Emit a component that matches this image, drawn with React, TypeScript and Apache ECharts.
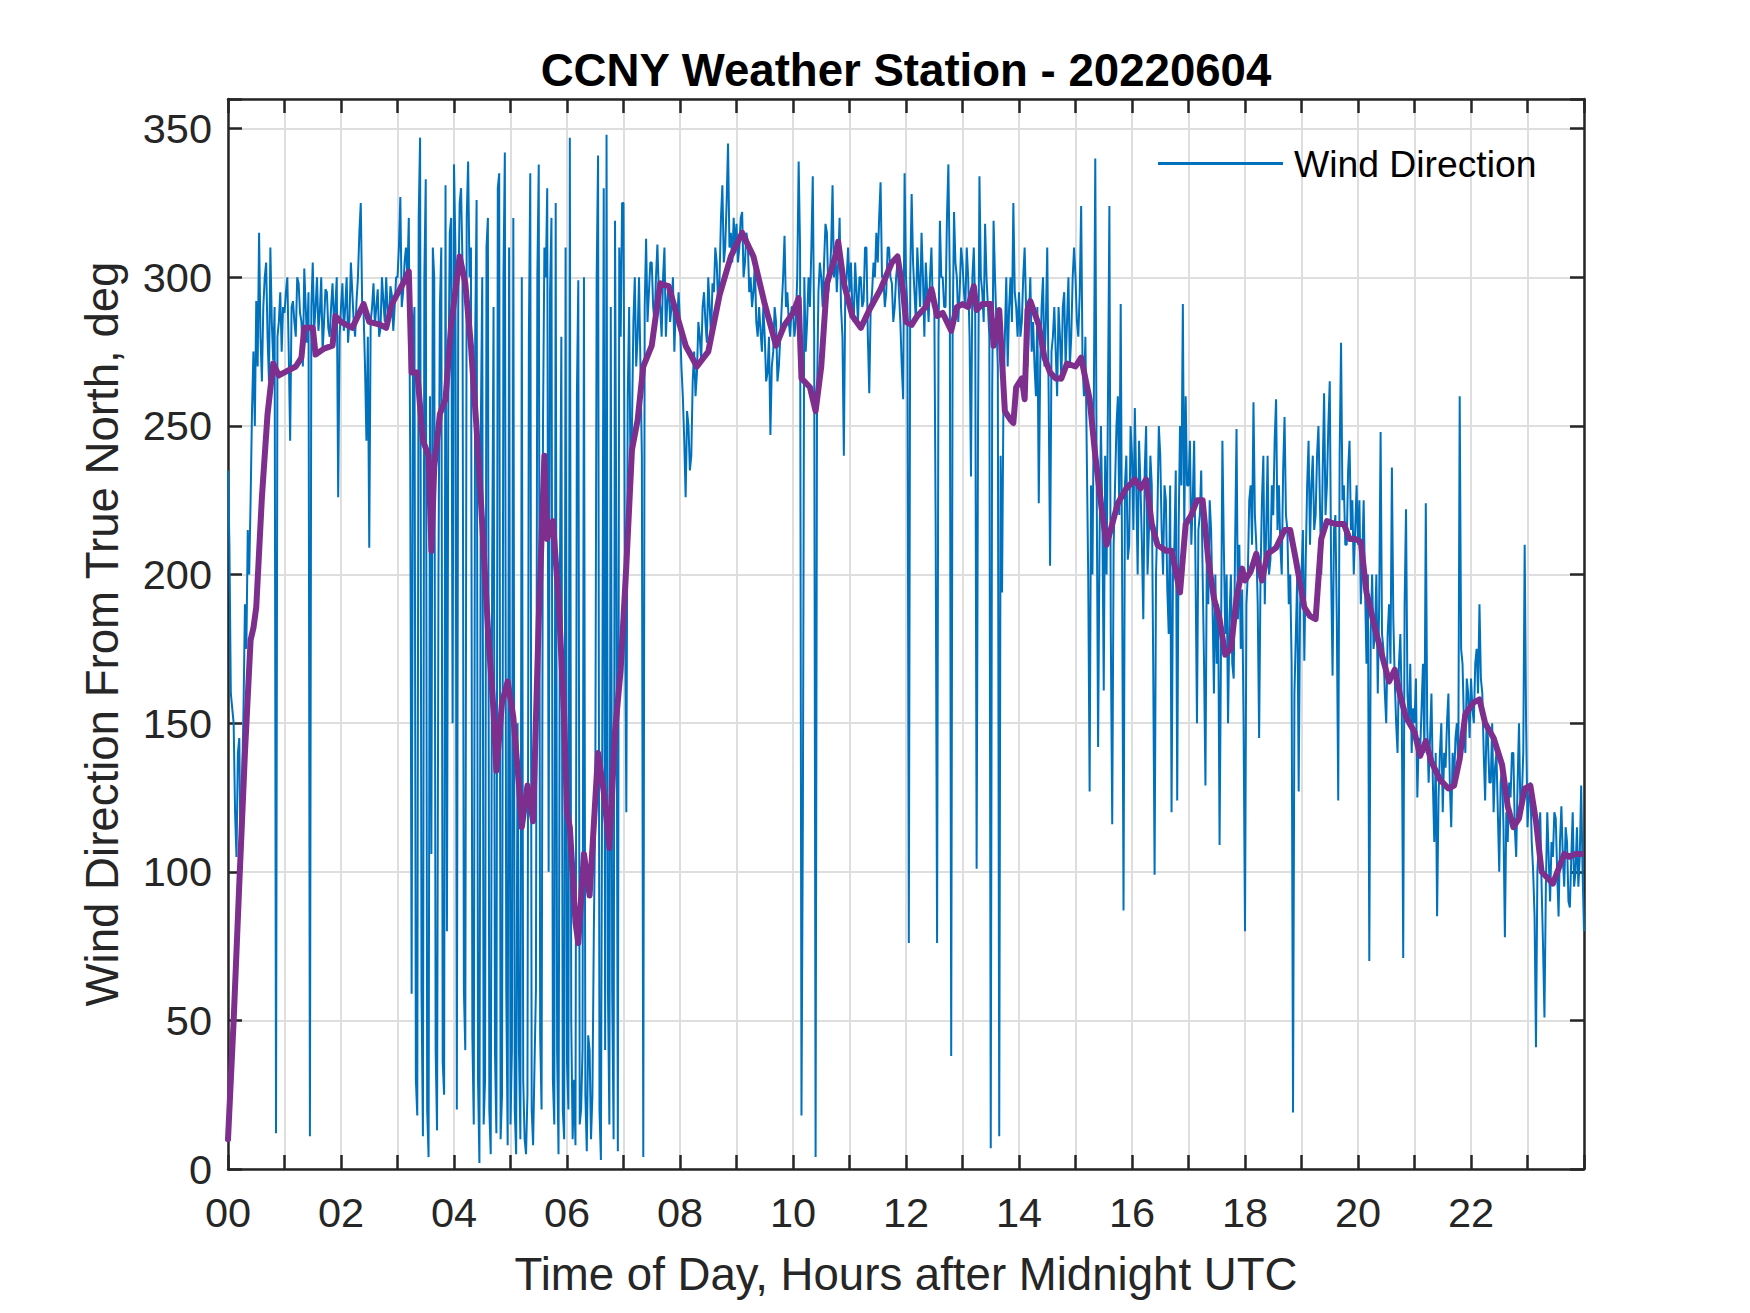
import React, { useEffect, useRef } from 'react';
import * as echarts from 'echarts';

// raw wind direction, one row per hour (samples spread evenly across the hour)
const windByHour: number[][] = [
  /* 00 */ [235, 210, 160, 155, 150, 120, 105, 140, 145, 100, 130, 155, 190, 175, 215, 200, 225, 255, 275, 250, 292, 270, 315, 280, 265, 290, 300, 305, 280, 265, 310, 285, 272, 290, 12, 280, 285, 295, 275, 290],
  /* 01 */ [288, 295, 300, 275, 245, 290, 292, 285, 280, 300, 298, 288, 285, 270, 303, 290, 278, 295, 11, 290, 305, 282, 290, 300, 282, 288, 300, 275, 285, 296, 295, 283, 280, 290, 298, 285, 290, 300, 226, 280],
  /* 02 */ [290, 298, 282, 290, 300, 278, 286, 305, 295, 285, 280, 292, 300, 315, 325, 290, 288, 270, 245, 280, 209, 285, 290, 298, 284, 290, 296, 280, 283, 300, 292, 285, 300, 288, 286, 297, 294, 282, 290, 300],
  /* 03 */ [300, 310, 327, 290, 295, 305, 310, 300, 320, 240, 59, 280, 290, 30, 18, 320, 347, 60, 11, 300, 333, 20, 4, 260, 106, 310, 300, 40, 13, 200, 290, 310, 36, 25, 331, 80, 260, 315, 320, 150],
  /* 04 */ [338, 310, 20, 290, 325, 330, 305, 60, 40, 320, 339, 300, 310, 45, 15, 280, 326, 30, 2, 250, 300, 15, 30, 310, 320, 20, 5, 200, 290, 40, 12, 330, 335, 10, 25, 300, 342, 60, 8, 310],
  /* 05 */ [15, 40, 320, 20, 5, 150, 40, 10, 300, 30, 10, 5, 25, 280, 335, 20, 8, 35, 60, 300, 338, 45, 20, 250, 310, 300, 330, 100, 295, 320, 30, 15, 325, 40, 5, 200, 280, 20, 10, 310],
  /* 06 */ [36, 20, 347, 50, 10, 30, 8, 260, 299, 15, 20, 40, 300, 25, 6, 45, 40, 10, 25, 80, 120, 300, 341, 20, 3, 150, 330, 40, 348, 60, 15, 290, 60, 10, 319, 200, 6, 310, 280, 325],
  /* 07 */ [325, 200, 120, 260, 290, 230, 250, 285, 300, 270, 280, 300, 270, 240, 4, 290, 313, 285, 295, 305, 305, 290, 285, 300, 311, 295, 290, 280, 300, 310, 280, 292, 298, 285, 290, 300, 275, 290, 285, 295],
  /* 08 */ [285, 270, 260, 245, 226, 255, 250, 235, 240, 265, 275, 260, 268, 285, 280, 272, 290, 295, 285, 278, 300, 290, 280, 298, 295, 310, 305, 290, 300, 320, 331, 305, 310, 325, 345, 310, 315, 305, 320, 310],
  /* 09 */ [318, 305, 310, 320, 322, 300, 305, 315, 312, 295, 300, 290, 295, 305, 285, 280, 290, 282, 275, 290, 280, 265, 268, 280, 247, 270, 275, 290, 285, 265, 270, 280, 290, 300, 314, 290, 295, 285, 280, 290],
  /* 10 */ [290, 280, 285, 300, 339, 310, 18, 120, 300, 275, 285, 300, 290, 310, 334, 280, 4, 260, 295, 305, 300, 290, 305, 318, 315, 295, 300, 310, 331, 300, 310, 295, 305, 320, 290, 280, 240, 295, 300, 310],
  /* 11 */ [295, 305, 290, 285, 305, 295, 285, 300, 300, 290, 292, 310, 310, 280, 261, 290, 295, 305, 300, 315, 305, 320, 332, 300, 300, 290, 295, 310, 310, 300, 298, 285, 290, 300, 305, 295, 285, 270, 259, 335],
  /* 12 */ [300, 290, 76, 300, 328, 305, 295, 285, 310, 300, 290, 315, 300, 280, 305, 295, 285, 300, 310, 290, 295, 217, 76, 280, 319, 300, 300, 290, 290, 320, 338, 300, 38, 280, 322, 305, 300, 285, 295, 310],
  /* 13 */ [305, 295, 290, 310, 300, 280, 233, 300, 310, 290, 101, 250, 334, 300, 295, 285, 318, 300, 290, 280, 7, 260, 319, 300, 285, 270, 11, 240, 194, 260, 280, 300, 270, 290, 300, 285, 325, 295, 290, 280],
  /* 14 */ [295, 280, 285, 300, 310, 290, 270, 285, 300, 275, 285, 270, 260, 290, 224, 270, 290, 300, 270, 285, 310, 260, 203, 275, 280, 290, 275, 260, 290, 280, 265, 290, 295, 270, 285, 300, 270, 280, 300, 310],
  /* 15 */ [300, 285, 280, 295, 324, 270, 260, 280, 240, 200, 127, 230, 200, 260, 340, 230, 142, 210, 250, 220, 161, 240, 200, 260, 324, 180, 116, 210, 230, 250, 260, 220, 291, 200, 87, 230, 240, 205, 210, 250],
  /* 16 */ [240, 215, 256, 230, 200, 245, 230, 210, 185, 235, 250, 200, 215, 240, 230, 170, 99, 200, 220, 250, 240, 215, 200, 230, 225, 195, 180, 230, 120, 200, 210, 235, 124, 215, 250, 230, 291, 215, 260, 230],
  /* 17 */ [230, 245, 210, 225, 245, 200, 150, 215, 220, 235, 200, 170, 129, 210, 190, 225, 215, 190, 160, 200, 170, 190, 109, 175, 245, 210, 180, 200, 150, 185, 200, 170, 165, 210, 249, 185, 210, 175, 195, 150],
  /* 18 */ [80, 190, 200, 225, 230, 210, 258, 220, 210, 190, 145, 200, 225, 240, 190, 215, 240, 200, 205, 230, 220, 245, 259, 215, 230, 210, 200, 235, 253, 220, 215, 190, 200, 170, 19, 160, 180, 200, 127, 190],
  /* 19 */ [200, 215, 171, 205, 230, 245, 210, 230, 240, 215, 220, 240, 250, 225, 200, 235, 261, 220, 230, 250, 265, 200, 166, 215, 220, 185, 124, 240, 278, 225, 230, 210, 210, 235, 245, 215, 225, 200, 215, 230],
  /* 20 */ [210, 225, 190, 205, 225, 195, 170, 200, 70, 180, 200, 175, 180, 200, 160, 190, 248, 180, 175, 160, 150, 180, 190, 170, 236, 185, 165, 150, 140, 170, 180, 155, 71, 190, 222, 160, 150, 170, 140, 155],
  /* 21 */ [150, 165, 125, 145, 140, 155, 170, 140, 224, 150, 130, 145, 160, 130, 110, 140, 85, 125, 140, 150, 120, 140, 135, 150, 160, 130, 115, 140, 130, 145, 150, 135, 260, 175, 170, 150, 140, 165, 160, 145],
  /* 22 */ [165, 155, 150, 170, 175, 160, 190, 165, 160, 140, 124, 150, 145, 130, 130, 150, 120, 135, 140, 120, 100, 130, 135, 115, 78, 120, 110, 130, 125, 140, 140, 115, 105, 130, 150, 120, 125, 140, 210, 150],
  /* 23 */ [115, 125, 130, 110, 100, 85, 41, 100, 110, 120, 95, 75, 51, 95, 120, 105, 90, 110, 105, 120, 118, 100, 85, 110, 122, 105, 95, 115, 110, 90, 88, 105, 120, 95, 100, 115, 95, 105, 129, 100],
];
const windAtMidnight = 80; // last sample, 24:00

// running mean (purple), read at its turning points
const avgHours: number[] = [
  0, 0.1, 0.2, 0.3, 0.4, 0.45, 0.5, 0.6, 0.7, 0.8, 0.9, 1.0, 1.2, 1.3, 1.35, 1.5, 1.55, 1.7, 1.85, 1.9,
  2.0, 2.2, 2.4, 2.5, 2.7, 2.8, 2.9, 3.1, 3.2, 3.25, 3.35, 3.45, 3.55, 3.6, 3.65, 3.75, 3.85, 3.95,
  4.1, 4.2, 4.3, 4.4, 4.5, 4.6, 4.7, 4.75, 4.85, 4.95, 5.05, 5.15, 5.2, 5.3, 5.4, 5.5, 5.6, 5.65, 5.75,
  5.85, 5.95, 6.0, 6.05, 6.15, 6.2, 6.3, 6.4, 6.55, 6.65, 6.75, 6.85, 6.95, 7.05, 7.15, 7.25, 7.35,
  7.5, 7.65, 7.8, 7.95, 8.1, 8.3, 8.5, 8.7, 8.9, 9.1, 9.3, 9.5, 9.7, 9.85, 10.0, 10.1, 10.15, 10.3,
  10.4, 10.5, 10.6, 10.75, 10.8, 10.9, 11.05, 11.2, 11.35, 11.55, 11.75, 11.85, 11.95, 12.0, 12.1,
  12.2, 12.35, 12.45, 12.55, 12.65, 12.8, 12.9, 13.0, 13.1, 13.2, 13.25, 13.35, 13.5, 13.55, 13.65,
  13.75, 13.85, 13.9, 13.95, 14.05, 14.1, 14.15, 14.2, 14.35, 14.45, 14.55, 14.65, 14.75, 14.85, 15.0,
  15.1, 15.25, 15.35, 15.45, 15.55, 15.65, 15.75, 15.9, 16.05, 16.15, 16.25, 16.35, 16.45, 16.6, 16.7,
  16.85, 16.95, 17.05, 17.15, 17.25, 17.35, 17.45, 17.55, 17.65, 17.75, 17.85, 17.95, 18.0, 18.1,
  18.2, 18.3, 18.4, 18.55, 18.7, 18.8, 18.9, 19.05, 19.15, 19.25, 19.35, 19.45, 19.6, 19.75, 19.85,
  19.95, 20.05, 20.15, 20.3, 20.45, 20.55, 20.65, 20.75, 20.85, 21.0, 21.1, 21.2, 21.3, 21.45, 21.6,
  21.7, 21.8, 21.9, 22.05, 22.15, 22.25, 22.4, 22.55, 22.65, 22.75, 22.85, 22.95, 23.05, 23.15, 23.25,
  23.35, 23.45, 23.55, 23.65, 23.75, 23.85, 23.95,
];
const avgDeg: number[] = [
  10, 50, 96, 140, 178, 182, 189, 226, 254, 271, 267, 268, 270, 273, 283, 283, 274, 276, 277, 287,
  285, 283, 291, 285, 284, 283, 291, 298, 302, 268, 268, 245, 240, 208, 236, 254, 259, 284,
  307, 298, 277, 249, 217, 182, 154, 134, 157, 164, 152, 129, 115, 129, 117, 185, 240, 212, 218,
  192, 152, 120, 115, 83, 76, 106, 92, 140, 127, 108, 147, 168, 203, 242, 252, 270,
  277, 298, 297, 287, 277, 270, 275, 294, 307, 315, 307, 291, 277, 284, 288, 293, 266, 263,
  255, 270, 298, 307, 312, 298, 287, 283, 289, 296, 305, 307, 295, 285, 284,
  287, 290, 296, 287, 288, 282, 290, 291, 290, 297, 289, 291, 291, 277, 289,
  255, 252, 251, 263, 266, 259, 289, 292, 284, 273, 268, 266, 266, 271, 270,
  273, 259, 240, 224, 210, 217, 224, 229, 232, 229, 232, 217, 210, 208, 208,
  194, 217, 220, 225, 225, 205, 192, 185, 173, 175, 192, 202, 198, 201,
  207, 198, 207, 209, 215, 215, 205, 189, 186, 185, 212, 218, 217, 217, 212,
  212, 211, 194, 182, 171, 164, 168, 159, 152, 147, 139, 144, 137, 131, 128,
  129, 138, 153, 157, 158, 150, 145, 136, 122, 115, 118, 128, 129, 117, 100,
  98, 96, 101, 106, 105, 106, 106,
];

const FONT = '"Liberation Sans", Arial, Helvetica, sans-serif';
const INK = '#262626';

const App: React.FC = () => {
  const chartRef = useRef<HTMLDivElement>(null);

  useEffect(() => {
    if (!chartRef.current) return;
    const chart = echarts.init(chartRef.current, undefined, { renderer: 'svg' });

    // place each hour's samples evenly inside that hour
    const rawData: number[][] = [];
    windByHour.forEach((row, hour) => {
      row.forEach((v, k) => rawData.push([hour + k / row.length, v]));
    });
    rawData.push([24, windAtMidnight]);
    const avgData = avgHours.map((h, i) => [h, avgDeg[i]]);

    const frameLine = { show: true, onZero: false, lineStyle: { color: INK, width: 2.5 } };
    const frameTick = { show: true, inside: true, length: 14, lineStyle: { color: INK, width: 2.5 } };

    chart.setOption({
      animation: false,
      backgroundColor: '#ffffff',
      title: {
        text: 'CCNY Weather Station - 20220604',
        left: 906,
        top: 47,
        padding: 0,
        textAlign: 'center',
        textStyle: { fontFamily: FONT, fontSize: 45.6, fontWeight: 'bold', color: '#000' },
      },
      legend: {
        data: ['Wind Direction'],
        left: 1158,
        top: 145,
        padding: 0,
        icon: 'rect',
        itemWidth: 125,
        itemHeight: 3,
        textStyle: { fontFamily: FONT, fontSize: 37.3, color: '#000', padding: [0, 0, 0, 6] },
      },
      grid: { left: 228, top: 99, right: 166, bottom: 144 },
      xAxis: [
        {
          type: 'value',
          min: 0,
          max: 24,
          interval: 1,
          position: 'bottom',
          axisLine: frameLine,
          axisTick: frameTick,
          axisLabel: {
            margin: 22,
            fontFamily: FONT,
            fontSize: 41.5,
            color: INK,
            formatter: (v: number) => (v % 2 === 0 && v < 24 ? String(v).padStart(2, '0') : ''),
          },
          splitLine: { show: true, lineStyle: { color: '#dedede', width: 2 } },
          name: 'Time of Day, Hours after Midnight UTC',
          nameLocation: 'middle',
          nameGap: 82,
          nameTextStyle: { fontFamily: FONT, fontSize: 45.6, color: INK },
        },
        {
          type: 'value',
          min: 0,
          max: 24,
          interval: 1,
          position: 'top',
          axisLine: frameLine,
          axisTick: frameTick,
          axisLabel: { show: false },
          splitLine: { show: false },
        },
      ],
      yAxis: [
        {
          type: 'value',
          min: 0,
          max: 360,
          interval: 50,
          position: 'left',
          axisLine: frameLine,
          axisTick: frameTick,
          axisLabel: {
            margin: 16,
            fontFamily: FONT,
            fontSize: 41.5,
            color: INK,
            formatter: (v: number) => (v % 50 === 0 ? String(v) : ''),
          },
          splitLine: { show: true, lineStyle: { color: '#dedede', width: 2 } },
          name: 'Wind Direction From True North, deg',
          nameLocation: 'middle',
          nameGap: 103,
          nameTextStyle: { fontFamily: FONT, fontSize: 45.6, color: INK },
        },
        {
          type: 'value',
          min: 0,
          max: 360,
          interval: 50,
          position: 'right',
          axisLine: frameLine,
          axisTick: frameTick,
          axisLabel: { show: false },
          splitLine: { show: false },
        },
      ],
      series: [
        {
          name: 'Wind Direction',
          type: 'line',
          data: rawData,
          xAxisIndex: 0,
          yAxisIndex: 0,
          symbol: 'none',
          lineStyle: { color: '#0072BD', width: 2 },
          itemStyle: { color: '#0072BD' },
          z: 2,
        },
        {
          name: 'Running Mean',
          type: 'line',
          data: avgData,
          xAxisIndex: 0,
          yAxisIndex: 0,
          symbol: 'none',
          lineStyle: { color: '#7E2F8E', width: 6, join: 'round', cap: 'round' },
          itemStyle: { color: '#7E2F8E' },
          z: 3,
        },
      ],
    });

    return () => {
      chart.dispose();
    };
  }, []);

  return (
    <div
      ref={chartRef}
      style={{ position: 'absolute', left: 0, top: 0, width: 1750, height: 1313, background: '#fff' }}
    />
  );
};

export default App;
